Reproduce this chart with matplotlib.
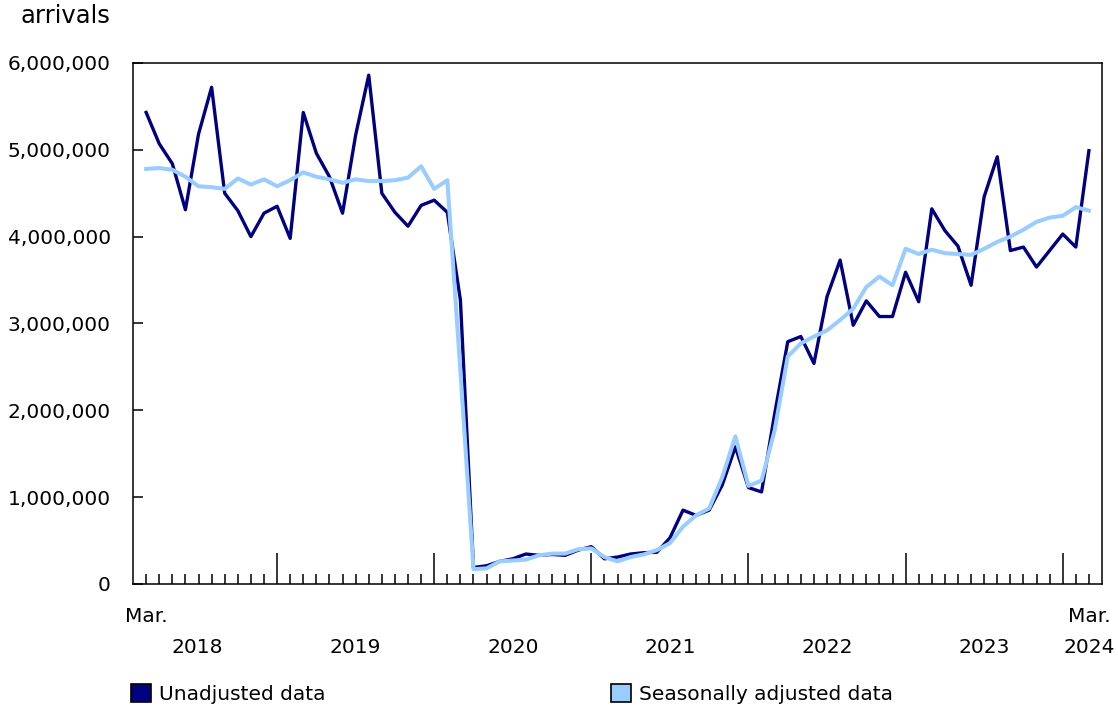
import numpy as np
import pandas as pd
import matplotlib
matplotlib.use("Agg")
import matplotlib.pyplot as plt
from matplotlib.patches import Patch
from matplotlib.ticker import FuncFormatter

# monthly arrivals, Mar 2018 - Mar 2024 (millions)
months = pd.date_range("2018-03-01", "2024-03-01", freq="MS")

unadjusted = [5.43, 5.07, 4.84, 4.31, 5.18, 5.72, 4.50, 4.30, 4.00, 4.27,
              4.35, 3.98, 5.43, 4.96, 4.69, 4.27, 5.17, 5.86, 4.50, 4.28, 4.12, 4.36,
              4.42, 4.28, 3.27, 0.19, 0.21, 0.26, 0.29, 0.345, 0.33, 0.34, 0.33, 0.39,
              0.43, 0.29, 0.31, 0.345, 0.36, 0.365, 0.53, 0.85, 0.79, 0.85, 1.14, 1.58,
              1.11, 1.06, 1.96, 2.79, 2.85, 2.54, 3.31, 3.73, 2.98, 3.26, 3.08, 3.08,
              3.59, 3.25, 4.32, 4.07, 3.89, 3.44, 4.46, 4.92, 3.84, 3.88, 3.65, 3.84,
              4.03, 3.88, 4.99]

seas_adjusted = [4.78, 4.79, 4.77, 4.69, 4.58, 4.57, 4.55, 4.67, 4.60, 4.66,
                 4.58, 4.65, 4.74, 4.69, 4.66, 4.62, 4.66, 4.64, 4.64, 4.65, 4.68, 4.81,
                 4.55, 4.65, 2.45, 0.17, 0.18, 0.26, 0.27, 0.28, 0.33, 0.35, 0.35, 0.40,
                 0.41, 0.31, 0.26, 0.31, 0.34, 0.39, 0.47, 0.66, 0.79, 0.87, 1.23, 1.70,
                 1.13, 1.19, 1.77, 2.62, 2.77, 2.85, 2.92, 3.04, 3.17, 3.42, 3.54, 3.44,
                 3.86, 3.80, 3.85, 3.81, 3.80, 3.79, 3.86, 3.94, 4.00, 4.08, 4.17, 4.22,
                 4.24, 4.34, 4.30]

year_labels = ["2018", "2019", "2020", "2021", "2022", "2023", "2024"]
year_pos = [3.9, 16, 28, 40, 52, 64, 72]

dark = "#000080"
light = "#99ccff"
fs = 14.5

x = np.arange(len(months))
unadj = np.array(unadjusted) * 1e6
seas = np.array(seas_adjusted) * 1e6

fig = plt.figure(figsize=(11.18, 7.10), dpi=100)
ax = fig.add_axes([0.119, 0.1775, 0.8667, 0.7338])

ax.plot(x, unadj, color=dark, lw=2.4, zorder=3)
ax.plot(x, seas, color=light, lw=2.9, zorder=4)

ax.set_xlim(-1, len(x))
ax.set_ylim(0, 6e6)
ax.set_yticks(np.arange(0, 6e6 + 1, 1e6))
ax.yaxis.set_major_formatter(FuncFormatter(lambda v, p: f"{int(v):,}"))

jan = [i for i, m in enumerate(months) if m.month == 1]
other = [i for i, m in enumerate(months) if m.month != 1]
ax.set_xticks(jan)
ax.set_xticks(other, minor=True)
ax.set_xticklabels([])

ax.tick_params(axis="y", direction="in", length=7.5, width=1.1, labelsize=fs, pad=16)
ax.tick_params(axis="x", which="major", direction="in", length=22, width=1.1)
ax.tick_params(axis="x", which="minor", direction="in", length=7.5, width=1.1)
for s in ax.spines.values():
    s.set_linewidth(1.1)

trans = ax.get_xaxis_transform()
ax.text(0, -0.063, "Mar.", transform=trans, ha="center", va="center", fontsize=fs)
ax.text(72, -0.063, "Mar.", transform=trans, ha="center", va="center", fontsize=fs)
for lab, p in zip(year_labels, year_pos):
    ax.text(p, -0.121, lab, transform=trans, ha="center", va="center", fontsize=fs)

fig.text(110 / 1118, 1 - 16 / 710, "arrivals", ha="right", va="center", fontsize=17.5)

h1 = Patch(facecolor=dark, edgecolor="black", linewidth=1.2)
h2 = Patch(facecolor=light, edgecolor="black", linewidth=1.2)
fig.legend([h1], ["Unadjusted data"], loc="center left",
           bbox_to_anchor=(131 / 1118, 1 - 694 / 710), frameon=False, fontsize=fs,
           handlelength=1.0, handleheight=1.0, handletextpad=0.4, borderpad=0,
           borderaxespad=0)
fig.legend([h2], ["Seasonally adjusted data"], loc="center left",
           bbox_to_anchor=(611 / 1118, 1 - 694 / 710), frameon=False, fontsize=fs,
           handlelength=1.0, handleheight=1.0, handletextpad=0.4, borderpad=0,
           borderaxespad=0)

fig.savefig("out.png", dpi=100)
